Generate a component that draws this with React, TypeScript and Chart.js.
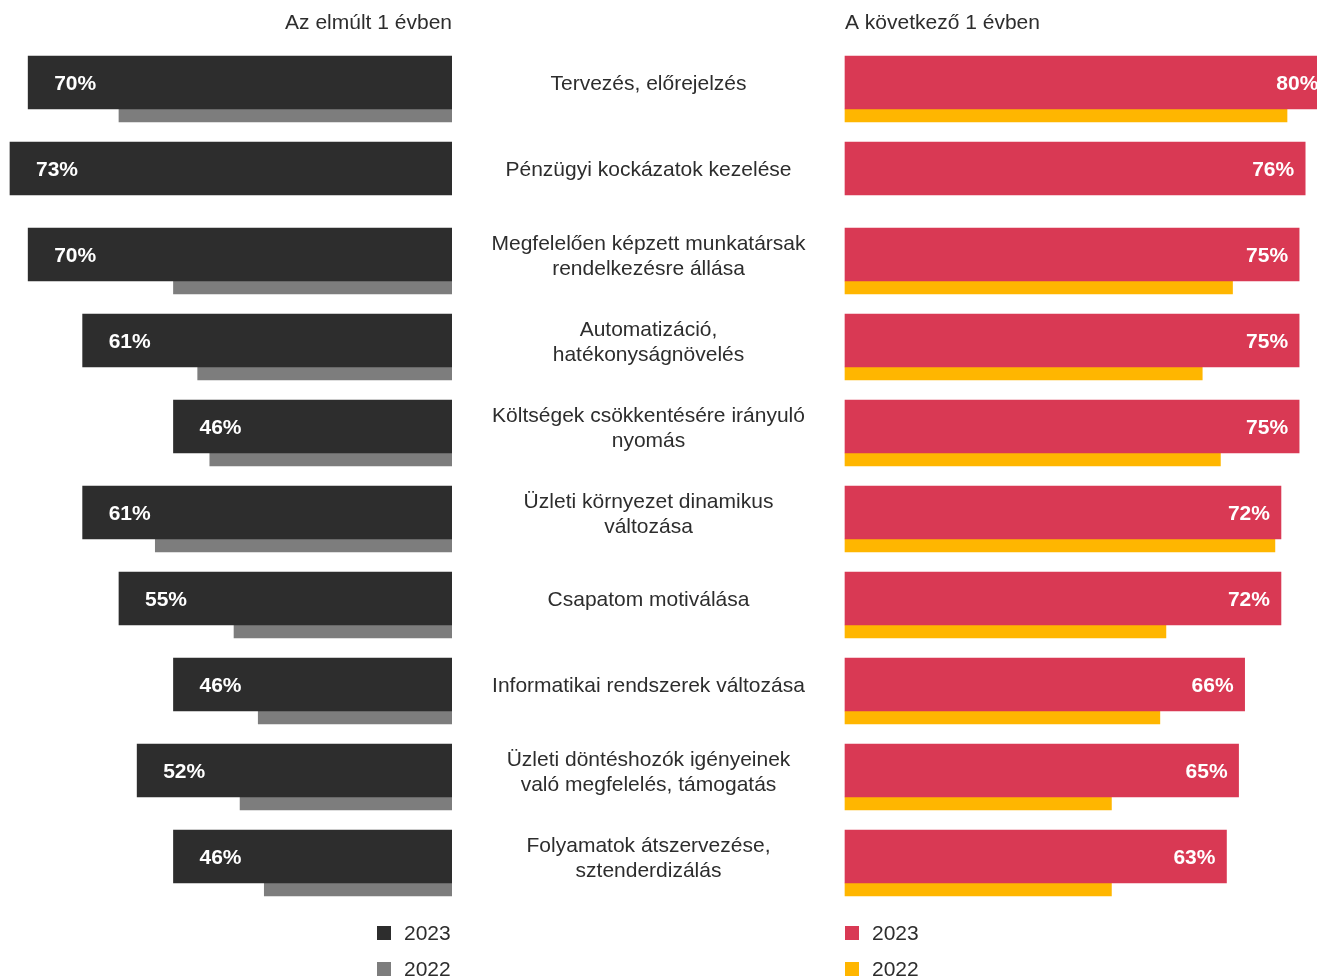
import React, { useEffect, useRef } from "react";
import { Chart, registerables } from "chart.js";

Chart.register(...registerables);

const FONT = "'Liberation Sans', Arial, Helvetica, sans-serif";
const TEXT = "#2d2d2d";
const FS = 21;

const categories: string[][] = [
  ["Tervezés, előrejelzés"],
  ["Pénzügyi kockázatok kezelése"],
  ["Megfelelően képzett munkatársak", "rendelkezésre állása"],
  ["Automatizáció,", "hatékonyságnövelés"],
  ["Költségek csökkentésére irányuló", "nyomás"],
  ["Üzleti környezet dinamikus", "változása"],
  ["Csapatom motiválása"],
  ["Informatikai rendszerek változása"],
  ["Üzleti döntéshozók igényeinek", "való megfelelés, támogatás"],
  ["Folyamatok átszervezése,", "sztenderdizálás"],
];

const past2023 = [70, 73, 70, 61, 46, 61, 55, 46, 52, 46];
const past2022 = [55, null, 46, 42, 40, 49, 36, 32, 35, 31];
const next2023 = [80, 76, 75, 75, 75, 72, 72, 66, 65, 63];
const next2022 = [73, null, 64, 59, 62, 71, 53, 52, 44, 44];

const seriesNames = ["2023", "2022"];
const leftColors = ["#2d2d2d", "#7d7d7d"];
const rightColors = ["#d93954", "#ffb600"];
const leftTitle = "Az elmúlt 1 évben";
const rightTitle = "A következő 1 évben";

const valueLabelPlugin = (side: "left" | "right") => ({
  id: "valueLabels" + side,
  afterDatasetsDraw(chart: any) {
    const ctx = chart.ctx;
    const meta = chart.getDatasetMeta(0);
    const data = chart.data.datasets[0].data;
    ctx.save();
    ctx.font = `bold ${FS}px ${FONT}`;
    ctx.fillStyle = "#ffffff";
    ctx.textBaseline = "middle";
    meta.data.forEach((el: any, i: number) => {
      const v = data[i];
      if (v == null) return;
      if (side === "left") {
        ctx.textAlign = "left";
        ctx.fillText(`${v}%`, el.x + 26, el.y + 2);
      } else {
        ctx.textAlign = "right";
        ctx.fillText(`${v}%`, el.x - 11, el.y + 2);
      }
    });
    ctx.restore();
  },
});

const categoryLabelPlugin = {
  id: "categoryLabels",
  afterDraw(chart: any) {
    const ctx = chart.ctx;
    const meta = chart.getDatasetMeta(0);
    const labels = chart.data.labels as string[][];
    const cx = chart.chartArea.left / 2;
    const lh = 25;
    ctx.save();
    ctx.font = `${FS}px ${FONT}`;
    ctx.fillStyle = TEXT;
    ctx.textAlign = "center";
    ctx.textBaseline = "middle";
    labels.forEach((lines, i) => {
      const y = meta.data[i].y;
      lines.forEach((line, j) => {
        ctx.fillText(line, cx, y + (j - (lines.length - 1) / 2) * lh + 2);
      });
    });
    ctx.restore();
  },
};

function buildConfig(side: "left" | "right"): any {
  const v23 = side === "left" ? past2023 : next2023;
  const v22 = side === "left" ? past2022 : next2022;
  const colors = side === "left" ? leftColors : rightColors;
  const pxPerPct = 6.055;
  return {
    type: "bar",
    data: {
      labels: categories,
      datasets: [
        {
          label: seriesNames[0],
          data: v23,
          backgroundColor: colors[0],
          barThickness: 53,
          borderWidth: 0,
          clip: false,
        },
        {
          label: seriesNames[1],
          data: v22,
          backgroundColor: colors[1],
          barThickness: 13,
          borderWidth: 0,
          clip: false,
        },
      ],
    },
    options: {
      indexAxis: "y",
      animation: false,
      responsive: true,
      maintainAspectRatio: false,
      events: [],
      layout: {
        padding: side === "left" ? 0 : { left: 393, right: 0, top: 0, bottom: 0 },
      },
      scales: {
        x: {
          display: false,
          reverse: side === "left",
          min: 0,
          max: side === "left" ? 452 / pxPerPct : 472 / pxPerPct,
        },
        y: {
          display: false,
          offset: true,
        },
      },
      plugins: {
        legend: { display: false },
        tooltip: { enabled: false },
        title: {
          display: true,
          text: side === "left" ? leftTitle : rightTitle,
          align: side === "left" ? "end" : "start",
          fullSize: false,
          color: TEXT,
          font: { family: FONT, size: FS, weight: "normal", lineHeight: 1.2 },
          padding: { top: 11, bottom: 29.8 },
        },
      },
    },
    plugins:
      side === "left"
        ? [valueLabelPlugin("left")]
        : [valueLabelPlugin("right"), categoryLabelPlugin],
  };
}

function BarPanel({ side }: { side: "left" | "right" }) {
  const ref = useRef<HTMLCanvasElement | null>(null);
  useEffect(() => {
    if (!ref.current) return;
    const chart = new Chart(ref.current, buildConfig(side));
    return () => chart.destroy();
  }, [side]);
  return <canvas ref={ref} />;
}

function Legend({ x, colors }: { x: number; colors: string[] }) {
  const rows = [933, 969];
  return (
    <>
      {seriesNames.map((name, i) => (
        <div
          key={name}
          style={{
            position: "absolute",
            left: x,
            top: rows[i] - 12,
            height: 24,
            display: "flex",
            alignItems: "center",
            fontFamily: FONT,
            fontSize: FS,
            lineHeight: "24px",
            color: TEXT,
          }}
        >
          <span
            style={{
              display: "inline-block",
              width: 14,
              height: 14,
              background: colors[i],
              marginRight: 13,
            }}
          />
          <span>{name}</span>
        </div>
      ))}
    </>
  );
}

export default function App() {
  return (
    <div
      style={{
        position: "absolute",
        left: 0,
        top: 0,
        width: 1317,
        height: 979,
        background: "#ffffff",
        overflow: "hidden",
      }}
    >
      <div style={{ position: "absolute", left: 0, top: 0, width: 452, height: 926 }}>
        <BarPanel side="left" />
      </div>
      <div style={{ position: "absolute", left: 452, top: 0, width: 865, height: 926 }}>
        <BarPanel side="right" />
      </div>
      <Legend x={377} colors={leftColors} />
      <Legend x={845} colors={rightColors} />
    </div>
  );
}
